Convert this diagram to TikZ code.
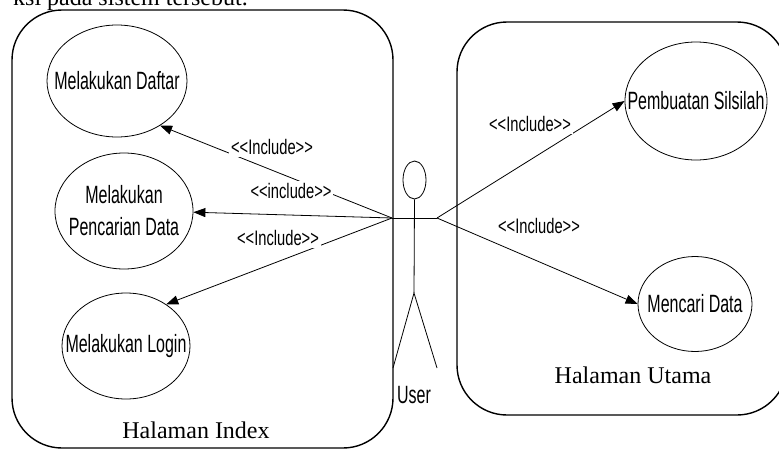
\documentclass[tikz,border=0pt]{standalone}
\usepackage{fontspec}
\setmainfont{Liberation Serif}
\newfontfamily\ucfont[FakeStretch=0.64]{Liberation Sans}
\newfontfamily\lblfont[FakeStretch=0.7]{Liberation Sans}
\usetikzlibrary{shapes.geometric,arrows.meta}
\begin{document}
\begin{tikzpicture}[x=1pt,y=-1pt,
  sysbox/.style={draw,line width=1.4pt,rounded corners=50pt,rectangle,inner sep=0pt},
  uc/.style={draw,ellipse,line width=0.8pt,inner sep=0pt},
  uctext/.style={font=\ucfont\fontsize{25}{32}\selectfont,align=center,inner sep=0pt},
  incl/.style={font=\lblfont\fontsize{21}{24}\selectfont,fill=white,inner sep=2pt},
  arr/.style={line width=0.8pt,-{Triangle[length=12pt,width=9pt]}},
  actorline/.style={line width=0.8pt},
  title/.style={font=\fontsize{24}{28}\selectfont,inner sep=0pt}]
\useasboundingbox (0,0) rectangle (779,450);
\clip (0,0) rectangle (779,450);

% top cut-off text
\node[title, anchor=base east] (toptext) at (248,5) {ksi pada sistem tersebut.};

% system boxes
\node[sysbox, minimum width=381pt, minimum height=438pt] (index) at (202.5,229) {};
\node[sysbox, minimum width=330pt, minimum height=393pt] (utama) at (622,218.5) {};
\node[title, anchor=base] (indexlbl) at (196,438) {Halaman Index};
\node[title, anchor=base] (utamalbl) at (633,383) {Halaman Utama};

% use cases
\node[uc, minimum width=140pt, minimum height=112pt] (daftar) at (117,81) {};
\node[uctext] (daftart) at (daftar) {Melakukan Daftar};
\node[uc, minimum width=138pt, minimum height=116pt] (cari) at (124,211) {};
\node[uctext] (carit) at (cari) {Melakukan\\Pencarian Data};
\node[uc, minimum width=128pt, minimum height=106pt] (login) at (126,346) {};
\node[uctext] (logint) at (login) {Melakukan Login};
\node[uc, minimum width=142pt, minimum height=118pt] (silsilah) at (696,101) {};
\node[uctext] (silsilaht) at (silsilah) {Pembuatan Silsilah};
\node[uc, minimum width=114pt, minimum height=95pt] (mencari) at (695,304) {};
\node[uctext] (mencarit) at (mencari) {Mencari Data};

% actor
\node[draw, ellipse, line width=0.8pt, minimum width=23pt, minimum height=38pt, inner sep=0pt] (head) at (414.5,180) {};
\coordinate (hip) at (414,293);
\coordinate (lh) at (392,218);
\coordinate (rh) at (437,218);
\coordinate (lf) at (393,368);
\coordinate (rf) at (437,368);
\draw[actorline] (head.south) -- (hip);
\draw[actorline] (lh) -- (rh);
\draw[actorline] (lf) -- (hip) -- (rf);
\node[uctext, anchor=base] (user) at (414,403) {User};

% include arrows
\draw[arr] (lh) -- (daftar.-46);
\draw[arr] (lh) -- (cari.-1);
\draw[arr] (lh) -- (login.46);
\draw[arr] (rh) -- (silsilah.west);
\draw[arr] (rh) -- (mencari.west);

% labels
\node[incl] (l1) at (272,147) {<<Include>>};
\node[incl] (l2) at (291,191) {<<include>>};
\node[incl] (l3) at (278,238) {<<Include>>};
\node[incl] (l4) at (530,124) {<<Include>>};
\node[incl] (l5) at (539,226) {<<Include>>};
\end{tikzpicture}
\end{document}
